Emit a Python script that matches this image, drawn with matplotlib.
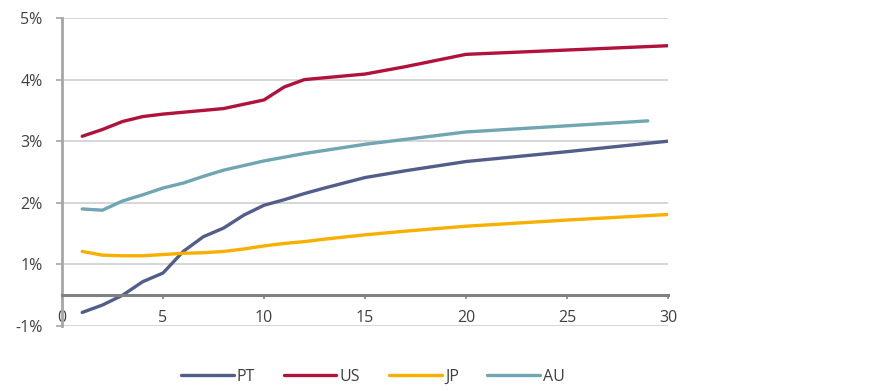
import matplotlib
matplotlib.use("Agg")
import matplotlib.pyplot as plt

plt.rcParams['font.family'] = ['Open Sans', 'DejaVu Sans']

# maturities (years)
maturity = [1, 2, 3, 4, 5, 6, 7, 8, 9, 10, 11, 12, 13, 15, 17, 20, 25, 30]
maturity_au = [1, 2, 3, 4, 5, 6, 7, 8, 10, 12, 15, 20, 25, 29]

# values in the chart's own axis scale (bottom gridline = 0)
pt = [0.22, 0.34, 0.50, 0.72, 0.86, 1.21, 1.45, 1.59, 1.80, 1.96, 2.05, 2.15, 2.24, 2.41, 2.52, 2.67, 2.83, 3.00]
us = [3.08, 3.19, 3.32, 3.40, 3.44, 3.47, 3.50, 3.53, 3.60, 3.67, 3.88, 4.00, 4.03, 4.09, 4.21, 4.41, 4.48, 4.55]
jp = [1.21, 1.15, 1.14, 1.14, 1.16, 1.18, 1.19, 1.21, 1.25, 1.30, 1.34, 1.37, 1.41, 1.48, 1.54, 1.62, 1.72, 1.81]
au = [1.90, 1.88, 2.03, 2.13, 2.24, 2.32, 2.43, 2.53, 2.68, 2.80, 2.95, 3.15, 3.25, 3.33]

y_ticks = [0, 1, 2, 3, 4, 5]
y_labels = ['-1%', '1%', '2%', '3%', '4%', '5%']
x_ticks = [0, 5, 10, 15, 20, 25, 30]

fig = plt.figure(figsize=(8.71, 3.91), dpi=100)
ax = fig.add_axes([62 / 871, 1 - 326 / 391, (668 - 62) / 871, (326 - 18) / 391])

ax.plot(maturity, pt, color='#535d8a', lw=2.4, label='PT', solid_capstyle='round')
ax.plot(maturity, us, color='#b0123c', lw=2.4, label='US', solid_capstyle='round')
ax.plot(maturity, jp, color='#f7b000', lw=2.4, label='JP', solid_capstyle='round')
ax.plot(maturity_au, au, color='#6fa6b1', lw=2.4, label='AU', solid_capstyle='round')

ax.set_xlim(0, 30)
ax.set_ylim(0, 5)

# gridlines
for y in y_ticks:
    ax.axhline(y, color='#cfcfcf', lw=1.2, zorder=0)

ax.spines['top'].set_visible(False)
ax.spines['right'].set_visible(False)
ax.spines['left'].set_color('#a6a6a6')
ax.spines['left'].set_linewidth(2)
ax.spines['bottom'].set_position(('data', 0.5))
ax.spines['bottom'].set_color('#808080')
ax.spines['bottom'].set_linewidth(2.2)

ax.set_yticks(y_ticks)
ax.set_yticklabels(y_labels)
ax.set_xticks(x_ticks)
ax.set_xticklabels([str(t) for t in x_ticks])
ax.tick_params(axis='y', direction='out', length=4, width=1.2, color='#a6a6a6',
               pad=10, labelsize=11.5, labelcolor='#404040')
ax.tick_params(axis='x', direction='out', length=3, width=1.2, color='#808080',
               pad=8, labelsize=11.5, labelcolor='#404040')

fig.legend(loc='center', bbox_to_anchor=(373 / 871, 1 - 377 / 391), ncol=4,
           frameon=False, fontsize=11.5, handlelength=3.3, handletextpad=0.2,
           columnspacing=1.8, labelcolor='#404040')

fig.savefig('out.png', dpi=100)
